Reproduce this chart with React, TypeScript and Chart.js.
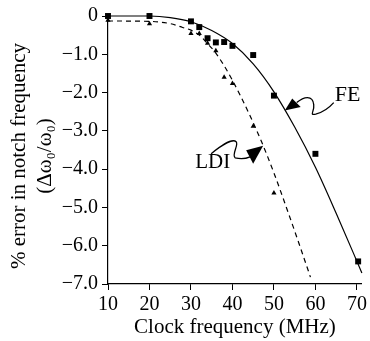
import React, { useEffect, useRef } from "react";
import { Chart, registerables } from "chart.js";

Chart.register(...registerables);

// Measured data: FE (squares) and LDI (triangles)
const feX = [10, 20, 30, 32, 34, 36, 38, 40, 45, 50, 60, 70.3];
const feY = [0, 0, -0.14, -0.29, -0.58, -0.69, -0.68, -0.78, -1.02, -2.08, -3.6, -6.41];
const ldiX = [10, 20, 30, 32, 34, 36, 38, 40, 45, 50];
const ldiY = [-0.11, -0.2, -0.46, -0.46, -0.71, -0.91, -1.6, -1.76, -2.88, -4.62];

// Fitted curves
const feCurveX = [10, 20, 25, 30, 35, 40, 45, 50, 55, 60, 65, 71.2];
const feCurveY = [0, 0, -0.04, -0.15, -0.38, -0.72, -1.25, -1.98, -2.9, -3.95, -5.15, -6.71];
const ldiCurveX = [10, 20, 25, 28, 30, 32, 34, 36, 38, 40, 42, 44, 47, 50, 53, 56, 58.8];
const ldiCurveY = [-0.13, -0.14, -0.2, -0.3, -0.37, -0.5, -0.72, -0.97, -1.3, -1.68, -2.1, -2.55, -3.28, -4.1, -5.0, -5.93, -6.82];

const xTicks = [10, 20, 30, 40, 50, 60, 70];
const yTicks = [0, -1, -2, -3, -4, -5, -6, -7];
const yTitleLines = ["% error in notch frequency", "(Δω₀/ω₀)"];
const xTitle = "Clock frequency (MHz)";

// Annotation anchor points (data coordinates on the curves)
const feArrowTip = { x: 52.6, y: -2.47 };
const ldiArrowTip = { x: 47.4, y: -3.39 };

const FONT = "'Liberation Serif', 'Times New Roman', serif";

const annotationPlugin = {
  id: "arrowsAnno",
  afterDatasetsDraw(chart: any) {
    const { ctx, scales, chartArea } = chart;
    const xs = scales.x;
    const ys = scales.y;
    ctx.save();
    ctx.strokeStyle = "#000";
    ctx.fillStyle = "#000";
    ctx.lineWidth = 1.3;

    // FE arrow
    {
      const tx = xs.getPixelForValue(feArrowTip.x);
      const ty = ys.getPixelForValue(feArrowTip.y);
      ctx.beginPath();
      ctx.moveTo(tx, ty);
      ctx.lineTo(tx + 7.5, ty - 12);
      ctx.lineTo(tx + 16, ty - 3.5);
      ctx.closePath();
      ctx.fill();
      ctx.beginPath();
      ctx.moveTo(tx + 12, ty - 8);
      ctx.bezierCurveTo(tx + 19, ty - 14, tx + 28, ty - 16, tx + 29, ty - 6);
      ctx.bezierCurveTo(tx + 30, ty + 1, tx + 24, ty + 5, tx + 31, ty + 3.5);
      ctx.quadraticCurveTo(tx + 41, ty + 1, tx + 49, ty - 8);
      ctx.stroke();
      ctx.font = `22px ${FONT}`;
      ctx.textAlign = "left";
      ctx.textBaseline = "middle";
      ctx.fillText("FE", tx + 50, ty - 15);
    }
    // LDI arrow
    {
      const tx = xs.getPixelForValue(ldiArrowTip.x);
      const ty = ys.getPixelForValue(ldiArrowTip.y);
      ctx.beginPath();
      ctx.moveTo(tx, ty);
      ctx.lineTo(tx - 17, ty + 4.5);
      ctx.lineTo(tx - 10, ty + 18);
      ctx.closePath();
      ctx.fill();
      ctx.beginPath();
      ctx.moveTo(tx - 13, ty + 11);
      ctx.quadraticCurveTo(tx - 20, ty + 14, tx - 28, ty + 12);
      ctx.bezierCurveTo(tx - 32, ty + 9, tx - 24, ty - 1, tx - 27, ty - 4);
      ctx.bezierCurveTo(tx - 30, ty - 7, tx - 40, ty - 2, tx - 52, ty + 8);
      ctx.stroke();
      ctx.font = `21px ${FONT}`;
      ctx.textAlign = "left";
      ctx.textBaseline = "middle";
      ctx.fillText("LDI", tx - 68, ty + 17);
    }

    // Y axis title (two rotated lines)
    {
      const cy = (chartArea.top + chartArea.bottom) / 2 + 6;
      ctx.font = `21px ${FONT}`;
      ctx.textAlign = "center";
      ctx.textBaseline = "middle";
      ctx.translate(19, cy);
      ctx.rotate(-Math.PI / 2);
      ctx.fillText(yTitleLines[0], 0, 0);
      ctx.fillText(yTitleLines[1], 0, 26);
    }
    ctx.restore();
  },
};

function pts(xa: number[], ya: number[]) {
  return xa.map((x, i) => ({ x, y: ya[i] }));
}

export default function App() {
  const ref = useRef<HTMLCanvasElement>(null);
  useEffect(() => {
    document.body.style.margin = "0";
    const chart = new Chart(ref.current as HTMLCanvasElement, {
      type: "line",
      data: {
        datasets: [
          {
            data: pts(feCurveX, feCurveY),
            borderColor: "#000",
            borderWidth: 1.2,
            pointRadius: 0,
            cubicInterpolationMode: "monotone",
            fill: false,
            clip: false as any,
          },
          {
            data: pts(ldiCurveX, ldiCurveY),
            borderColor: "#000",
            borderWidth: 1.2,
            borderDash: [5, 4],
            pointRadius: 0,
            cubicInterpolationMode: "monotone",
            fill: false,
            clip: false as any,
          },
          {
            data: pts(feX, feY),
            showLine: false,
            pointStyle: "rect",
            pointRadius: 4.2,
            pointBackgroundColor: "#000",
            pointBorderColor: "#000",
            pointBorderWidth: 0,
            clip: false as any,
          },
          {
            data: pts(ldiX, ldiY),
            showLine: false,
            pointStyle: "triangle",
            pointRadius: 3,
            pointBackgroundColor: "#000",
            pointBorderColor: "#000",
            pointBorderWidth: 0,
            clip: false as any,
          },
        ],
      },
      options: {
        animation: false,
        responsive: false,
        devicePixelRatio: 1,
        layout: { padding: { top: 15, right: 5, left: 0, bottom: 0 } },
        plugins: { legend: { display: false }, tooltip: { enabled: false } },
        scales: {
          x: {
            type: "linear",
            min: 10,
            max: 71.2,
            afterBuildTicks: (s: any) => {
              s.ticks = xTicks.map((v) => ({ value: v }));
            },
            afterFit: (s: any) => {
              s.height = 57;
            },
            ticks: {
              color: "#000",
              font: { family: FONT, size: 20 },
              padding: 3,
              maxRotation: 0,
              autoSkip: false,
            },
            grid: {
              drawOnChartArea: false,
              drawTicks: true,
              tickLength: 6,
              color: "#000",
              tickColor: "#000",
            },
            border: { display: true, color: "#000", width: 1.2 },
            title: {
              display: true,
              text: xTitle,
              color: "#000",
              font: { family: FONT, size: 21 },
              padding: { top: 0, bottom: 1 },
            },
          },
          y: {
            type: "linear",
            min: -7,
            max: 0,
            afterBuildTicks: (s: any) => {
              s.ticks = yTicks.map((v) => ({ value: v }));
            },
            afterFit: (s: any) => {
              s.width = 108;
            },
            ticks: {
              color: "#000",
              font: { family: FONT, size: 20 },
              padding: 4,
              callback: (v: any) =>
                Number(v) === 0 ? "0" : "\u2212" + Math.abs(Number(v)).toFixed(1),
            },
            grid: {
              drawOnChartArea: false,
              drawTicks: true,
              tickLength: 6,
              color: "#000",
              tickColor: "#000",
            },
            border: { display: true, color: "#000", width: 1.2 },
            title: { display: false },
          },
        },
      },
      plugins: [annotationPlugin],
    } as any);
    return () => chart.destroy();
  }, []);
  return <canvas ref={ref} width={370} height={341} style={{ display: "block" }} />;
}
